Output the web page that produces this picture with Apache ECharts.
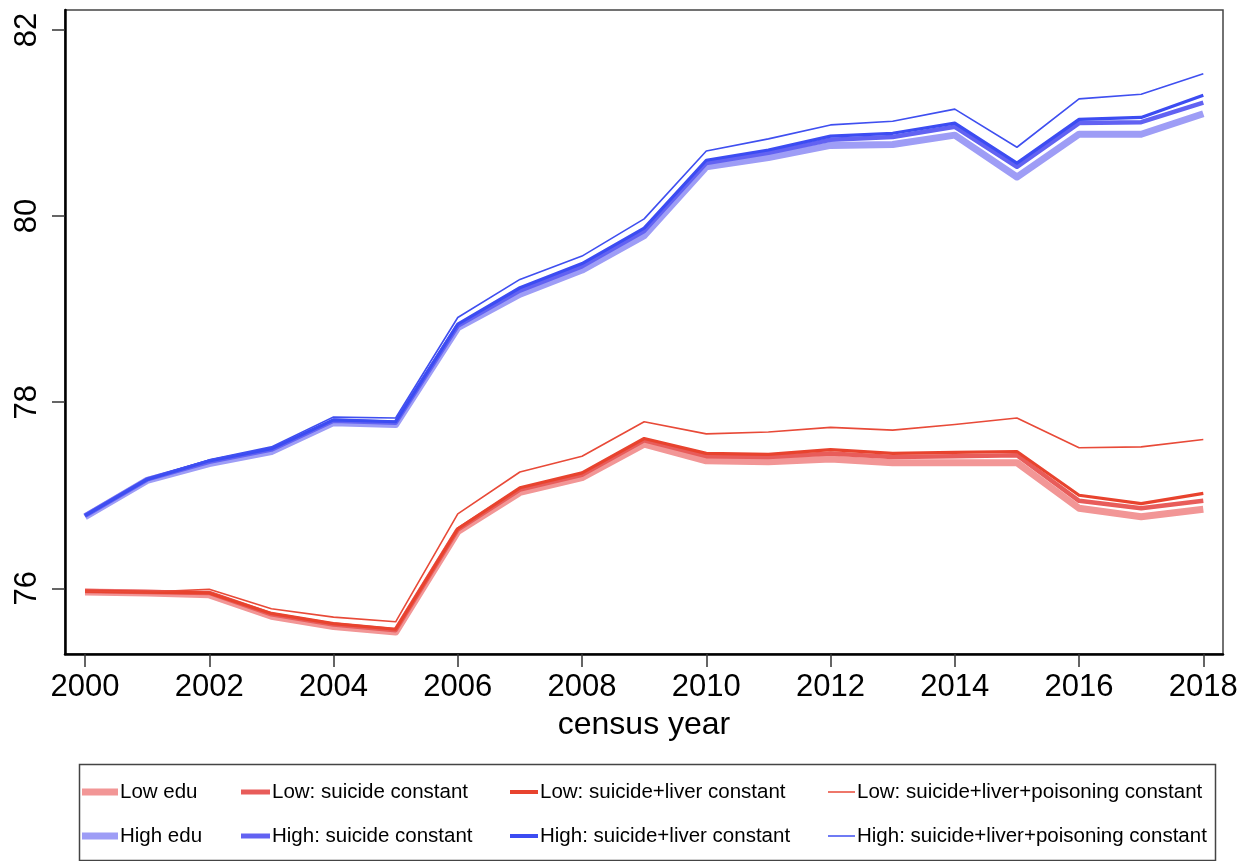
<!DOCTYPE html>
<html>
<head>
<meta charset="utf-8">
<script src="https://cdn.jsdelivr.net/npm/echarts@6/dist/echarts.min.js"></script>
<style>
html,body{margin:0;padding:0;background:#fff;}
#chart{width:1248px;height:861px;}
</style>
</head>
<body>
<div id="chart"></div>
<script>
const years = [2000,2001,2002,2003,2004,2005,2006,2007,2008,2009,2010,2011,2012,2013,2014,2015,2016,2017,2018];
const xTickLabels = [2000,2002,2004,2006,2008,2010,2012,2014,2016,2018];
const yTickLabels = [76,78,80,82];

const lowEdu          = [75.96,75.95,75.93,75.70,75.59,75.53,76.61,77.03,77.19,77.55,77.37,77.36,77.39,77.35,77.35,77.35,76.86,76.77,76.85];
const lowSuicide      = [75.97,75.96,75.95,75.72,75.61,75.55,76.63,77.06,77.22,77.59,77.42,77.41,77.45,77.41,77.42,77.43,76.94,76.86,76.94];
const lowSuicideLiver = [75.97,75.96,75.95,75.73,75.62,75.56,76.64,77.08,77.24,77.61,77.45,77.44,77.49,77.45,77.46,77.47,77.00,76.91,77.02];
const lowAll          = [75.97,75.96,75.99,75.78,75.69,75.64,76.80,77.25,77.42,77.79,77.66,77.68,77.73,77.70,77.76,77.83,77.51,77.52,77.60];

const highEdu          = [76.77,77.16,77.34,77.47,77.78,77.76,78.80,79.16,79.42,79.79,80.53,80.63,80.76,80.77,80.87,80.42,80.88,80.88,81.10];
const highSuicide      = [76.78,77.17,77.36,77.49,77.80,77.78,78.82,79.20,79.46,79.84,80.57,80.68,80.82,80.85,80.96,80.53,81.00,81.01,81.22];
const highSuicideLiver = [76.78,77.17,77.37,77.50,77.81,77.79,78.84,79.23,79.49,79.87,80.60,80.71,80.86,80.89,81.00,80.57,81.04,81.06,81.30];
const highAll          = [76.78,77.18,77.38,77.52,77.84,77.83,78.91,79.32,79.57,79.97,80.70,80.83,80.98,81.02,81.15,80.74,81.26,81.31,81.53];

const names = {
  lowEdu: 'Low edu', lowS: 'Low: suicide constant', lowSL: 'Low: suicide+liver constant', lowAll: 'Low: suicide+liver+poisoning constant',
  highEdu: 'High edu', highS: 'High: suicide constant', highSL: 'High: suicide+liver constant', highAll: 'High: suicide+liver+poisoning constant'
};

const FONT = '"Liberation Sans", Arial, Helvetica, sans-serif';

function pairs(vals){ return years.map((y,i)=>[y, vals[i]]); }
function line(name, vals, color, width, z){
  return {
    name: name, type: 'line', data: pairs(vals), symbol: 'none', z: z,
    lineStyle: {color: color, width: width, cap: 'butt', join: 'round'},
    itemStyle: {color: color}, emphasis: {disabled: true}, silent: true
  };
}

const C = {
  lowEdu: '#f29696', lowS: '#e85c5a', lowSL: '#e8432e', lowAll: '#e84a38',
  highEdu: '#9e9df6', highS: '#6262f2', highSL: '#3c4cf2', highAll: '#3f4ff0'
};

function legend(left, data, w, h){
  return {
    orient: 'vertical', left: left, top: 781, itemGap: 22, padding: 0,
    itemWidth: w, itemHeight: h, icon: 'rect', selectedMode: false,
    data: data,
    textStyle: {fontFamily: FONT, fontSize: 20.5, color: '#000', lineHeight: 22, padding: [0,0,0,-3]}
  };
}

const chart = echarts.init(document.getElementById('chart'), null, {renderer: 'canvas'});
chart.setOption({
  animation: false,
  backgroundColor: '#fff',
  grid: {left: 65, right: 25, top: 10, bottom: 207, show: true, borderColor: '#444', borderWidth: 1.5, backgroundColor: 'transparent'},
  xAxis: {
    type: 'value', min: 1999.678, max: 2018.317,
    name: 'census year', nameLocation: 'middle', nameGap: 55,
    nameTextStyle: {fontFamily: FONT, fontSize: 32, color: '#000'},
    axisLine: {show: true, onZero: false, lineStyle: {color: '#000', width: 2.5}},
    axisTick: {show: true, inside: false, length: 13, customValues: xTickLabels, lineStyle: {color: '#333', width: 1.5}},
    axisLabel: {customValues: xTickLabels, fontFamily: FONT, fontSize: 31, color: '#000', margin: 18, formatter: v => String(v)},
    splitLine: {show: false}
  },
  yAxis: {
    type: 'value', min: 75.294, max: 82.215,
    axisLine: {show: true, onZero: false, lineStyle: {color: '#000', width: 2.5}},
    axisTick: {show: true, inside: false, length: 13, customValues: yTickLabels, lineStyle: {color: '#333', width: 1.5}},
    axisLabel: {customValues: yTickLabels, rotate: 90, fontFamily: FONT, fontSize: 31, color: '#000', margin: 22, formatter: v => String(v)},
    splitLine: {show: false}
  },
  legend: [
    legend(82, [names.lowEdu, names.highEdu], 36, 7),
    legend(241, [names.lowS, names.highS], 29, 5),
    legend(510, [names.lowSL, names.highSL], 28, 4),
    legend(828, [names.lowAll, names.highAll], 27, 1.5)
  ],
  graphic: [{
    type: 'rect', left: 77, top: 762, shape: {width: 1136, height: 96},
    style: {fill: 'none', stroke: '#444', lineWidth: 1.5}, silent: true
  }],
  series: [
    line(names.lowEdu, lowEdu, C.lowEdu, 7, 1),
    line(names.lowS, lowSuicide, C.lowS, 4.5, 2),
    line(names.lowSL, lowSuicideLiver, C.lowSL, 3.2, 3),
    line(names.lowAll, lowAll, C.lowAll, 1.6, 4),
    line(names.highEdu, highEdu, C.highEdu, 7, 1),
    line(names.highS, highSuicide, C.highS, 4.5, 2),
    line(names.highSL, highSuicideLiver, C.highSL, 3.2, 3),
    line(names.highAll, highAll, C.highAll, 1.6, 4)
  ]
});
</script>
</body>
</html>
